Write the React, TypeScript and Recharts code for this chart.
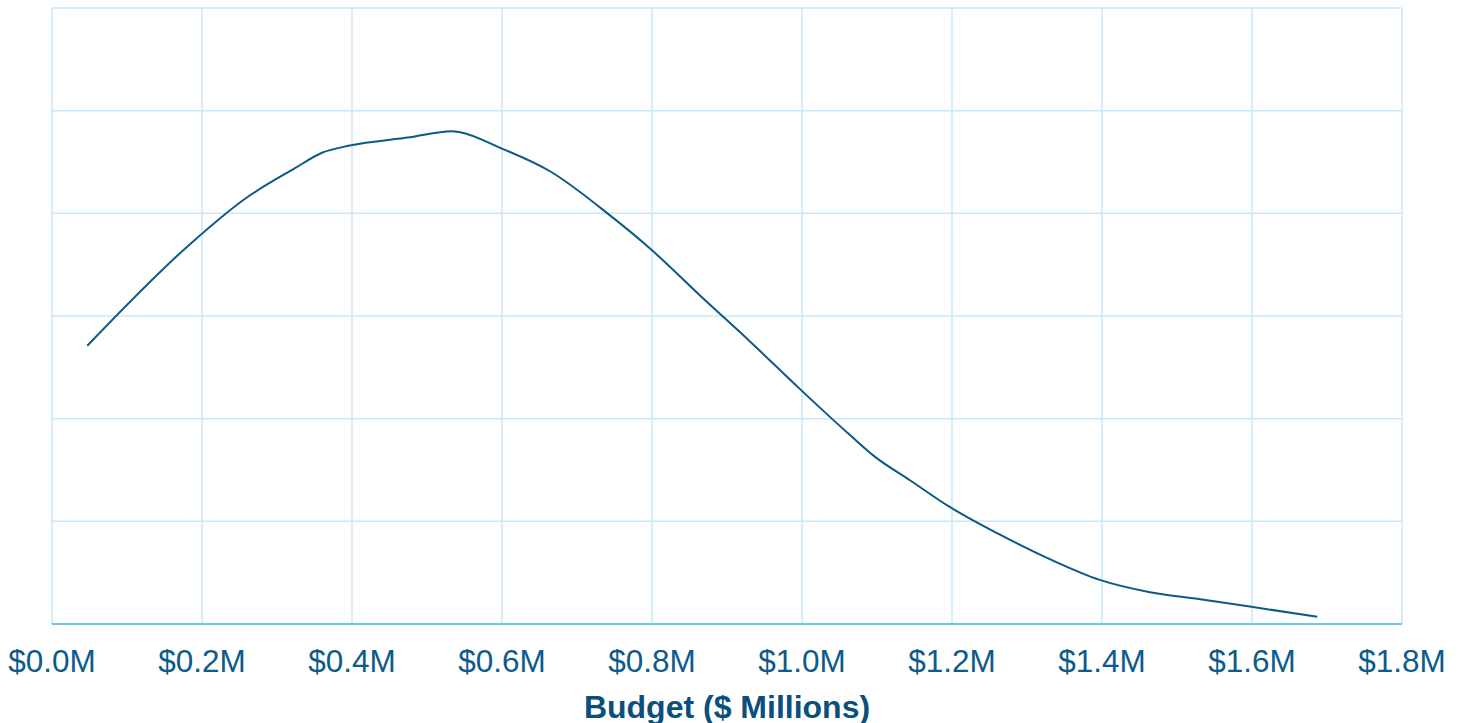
import { LineChart, Line, XAxis, YAxis, CartesianGrid, Label } from 'recharts';

// budget in $ millions
const budget = [
  0.047, 0.184, 0.257, 0.324, 0.36, 0.397, 0.477, 0.533, 0.544, 0.597, 0.664, 0.744, 0.797, 0.864,
  0.931, 0.997, 1.064, 1.097, 1.144, 1.197, 1.264, 1.331, 1.397, 1.464, 1.531, 1.597, 1.687,
];
// estimated density
const density = [
  2.71, 3.7, 4.14, 4.44, 4.59, 4.66, 4.74, 4.8, 4.79, 4.64, 4.41, 3.98, 3.66, 3.2,
  2.75, 2.29, 1.84, 1.63, 1.4, 1.14, 0.87, 0.63, 0.43, 0.31, 0.24, 0.17, 0.07,
];
const xTicks = [0, 0.2, 0.4, 0.6, 0.8, 1.0, 1.2, 1.4, 1.6, 1.8];
const yTicks = [0, 1, 2, 3, 4, 5, 6];

const data = budget.map((b, i) => ({ budget: b, density: density[i] }));

const App = () => {
  return (
    <div style={{ position: 'absolute', left: 0, top: 0 }}>
      <LineChart
        width={1465}
        height={723}
        data={data}
        margin={{ top: 8, right: 63, bottom: 0, left: 52 }}
      >
        <CartesianGrid stroke="#c8e8fb" strokeWidth={1.5} />
        <XAxis
          dataKey="budget"
          type="number"
          domain={[0, 1.8]}
          ticks={xTicks}
          interval={0}
          tickFormatter={(v: number) => `$${v.toFixed(1)}M`}
          stroke="#6cc6f5"
          strokeWidth={2}
          tickLine={false}
          height={99}
          tick={{ fill: '#0e5a8a', fontSize: 31.5, fontFamily: 'Liberation Sans, Arial, sans-serif' }}
          tickMargin={20}
        >
          <Label
            value="Budget ($ Millions)"
            position="insideBottom"
            offset={5}
            style={{
              fill: '#0b4f7c',
              fontSize: 32,
              fontWeight: 'bold',
              fontFamily: 'Liberation Sans, Arial, sans-serif',
            }}
          />
        </XAxis>
        <YAxis hide type="number" domain={[0, 6]} ticks={yTicks} />
        <Line
          type="monotone"
          dataKey="density"
          stroke="#0b5a86"
          strokeWidth={2}
          dot={false}
          isAnimationActive={false}
        />
      </LineChart>
    </div>
  );
};

export default App;
